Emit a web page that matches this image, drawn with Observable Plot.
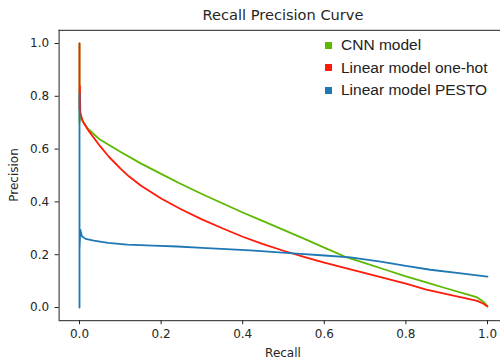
<!DOCTYPE html>
<html>
<head>
<meta charset="utf-8">
<script src="https://cdn.jsdelivr.net/npm/d3@7"></script>
<script src="https://cdn.jsdelivr.net/npm/@observablehq/plot@0.6"></script>
<style>
  html, body { margin: 0; padding: 0; background: #fff; }
  #wrap { position: relative; width: 500px; height: 361px; overflow: hidden; font-family: "DejaVu Sans", sans-serif; color: #262626; }
  #wrap svg { position: absolute; left: 0; top: 0; }
  .title { position: absolute; left: 133px; width: 300px; top: 8px; text-align: center; font-size: 14.6px; line-height: 14.6px; white-space: nowrap; }
  .xlabel { position: absolute; left: 233px; width: 100px; top: 347px; text-align: center; font-size: 12px; line-height: 12px; }
  .ylabel { position: absolute; left: -36px; width: 100px; top: 169px; text-align: center; font-size: 12px; line-height: 12px; transform: rotate(-90deg); }
  .legend { position: absolute; left: 325px; top: 34px; font-family: "Liberation Sans", Arial, sans-serif; font-size: 15.5px; color: #222; }
  .legend .row { display: flex; align-items: center; height: 22.5px; white-space: nowrap; }
  .legend .sw { width: 7px; height: 7px; margin-right: 9px; flex: none; }
</style>
</head>
<body>
<div id="wrap"></div>
<script>
// ---- data ----
const models = ["CNN model", "Linear model one-hot", "Linear model PESTO"];
const modelColors = ["#5cb800", "#ff1a0a", "#1f77b4"];

const cnnRecall    = [0, 0, 0.002, 0.006, 0.02, 0.05, 0.1, 0.15, 0.2, 0.25, 0.3, 0.35, 0.4, 0.45, 0.5, 0.55, 0.6, 0.65, 0.7, 0.75, 0.8, 0.85, 0.9, 0.95, 0.975, 0.99, 1.0];
const cnnPrecision = [1.0, 0.70, 0.73, 0.71, 0.678, 0.636, 0.59, 0.546, 0.506, 0.467, 0.43, 0.395, 0.36, 0.327, 0.294, 0.261, 0.227, 0.193, 0.168, 0.143, 0.118, 0.095, 0.072, 0.05, 0.038, 0.022, 0.005];

const oneHotRecall    = [0, 0, 0.001, 0.002, 0.005, 0.01, 0.023, 0.05, 0.072, 0.1, 0.121, 0.15, 0.2, 0.25, 0.3, 0.35, 0.4, 0.45, 0.5, 0.55, 0.6, 0.65, 0.7, 0.75, 0.8, 0.85, 0.9, 0.95, 0.975, 0.99, 1.0];
const oneHotPrecision = [1.0, 0.75, 0.84, 0.74, 0.72, 0.70, 0.668, 0.612, 0.571, 0.527, 0.497, 0.462, 0.413, 0.371, 0.334, 0.30, 0.268, 0.24, 0.215, 0.192, 0.17, 0.15, 0.13, 0.11, 0.09, 0.068, 0.051, 0.034, 0.025, 0.014, 0.004];

const pestoRecall    = [0, 0, 0, 0.002, 0.006, 0.015, 0.035, 0.07, 0.117, 0.18, 0.24, 0.3, 0.36, 0.419, 0.48, 0.542, 0.6, 0.664, 0.738, 0.8, 0.86, 0.93, 1.0];
const pestoPrecision = [0.0, 0.81, 0.22, 0.295, 0.27, 0.26, 0.253, 0.245, 0.238, 0.234, 0.231, 0.226, 0.221, 0.216, 0.21, 0.203, 0.197, 0.19, 0.174, 0.158, 0.143, 0.13, 0.117];

const xTicks = [0, 0.2, 0.4, 0.6, 0.8, 1.0];
const yTicks = [0, 0.2, 0.4, 0.6, 0.8, 1.0];
const titleText = "Recall Precision Curve";
const xLabelText = "Recall";
const yLabelText = "Precision";

// ---- build table ----
const series = [
  [models[0], cnnRecall, cnnPrecision],
  [models[1], oneHotRecall, oneHotPrecision],
  [models[2], pestoRecall, pestoPrecision]
];
const data = series.flatMap(([m, rs, ps]) => rs.map((r, i) => ({model: m, recall: r, precision: ps[i]})));

const W = 500, H = 361;
const chart = Plot.plot({
  width: W,
  height: H,
  marginLeft: 58.6,
  marginRight: 0,
  marginTop: 29.8,
  marginBottom: 40.8,
  style: {fontFamily: "DejaVu Sans", fontSize: "12px", color: "#262626", background: "white", overflow: "visible"},
  x: {domain: [-0.05, 1.05], range: [58.6, 507.4]},
  y: {domain: [-0.05, 1.05], range: [320.2, 29.8]},
  color: {domain: models, range: modelColors},
  marks: [
    Plot.ruleX([-0.05], {stroke: "#222", strokeWidth: 1}),
    Plot.ruleY([-0.05, 1.05], {stroke: "#222", strokeWidth: 1}),
    Plot.axisX({ticks: xTicks, tickFormat: d => d.toFixed(1), tickSize: 4, tickPadding: 5, label: null, stroke: "#222", fontSize: 12}),
    Plot.axisY({ticks: yTicks, tickFormat: d => d.toFixed(1), tickSize: 4, tickPadding: 6, label: null, stroke: "#222", fontSize: 12}),
    Plot.line(data, {x: "recall", y: "precision", z: "model", stroke: "model", strokeWidth: 1.8, strokeLinejoin: "round"})
  ]
});

const wrap = document.getElementById("wrap");
wrap.appendChild(chart);

const t = document.createElement("div"); t.className = "title"; t.textContent = titleText; wrap.appendChild(t);
const xl = document.createElement("div"); xl.className = "xlabel"; xl.textContent = xLabelText; wrap.appendChild(xl);
const yl = document.createElement("div"); yl.className = "ylabel"; yl.textContent = yLabelText; wrap.appendChild(yl);

const lg = document.createElement("div"); lg.className = "legend";
models.forEach((m, i) => {
  const row = document.createElement("div"); row.className = "row";
  const sw = document.createElement("span"); sw.className = "sw"; sw.style.background = modelColors[i];
  const tx = document.createElement("span"); tx.textContent = m;
  row.appendChild(sw); row.appendChild(tx); lg.appendChild(row);
});
wrap.appendChild(lg);
</script>
</body>
</html>
